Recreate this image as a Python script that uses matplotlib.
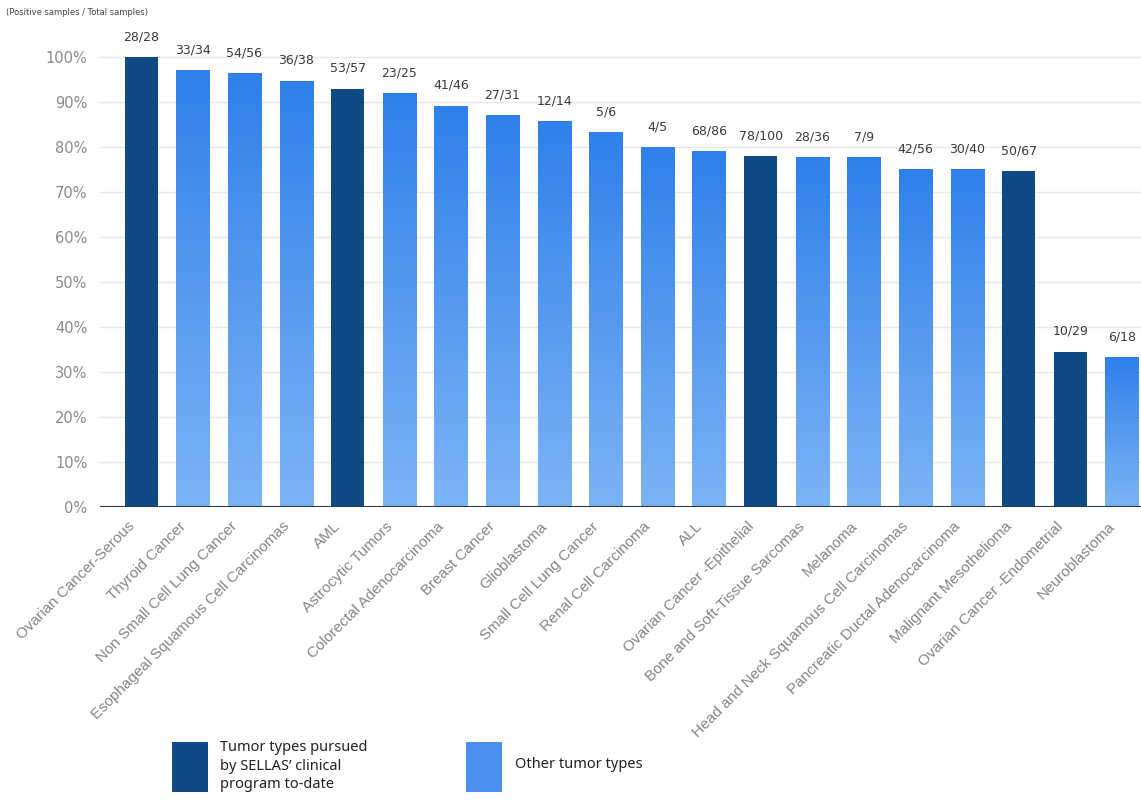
import numpy as np
import matplotlib
matplotlib.use("Agg")
import matplotlib.pyplot as plt
from matplotlib.patches import Rectangle
from matplotlib.colors import LinearSegmentedColormap
from matplotlib.transforms import ScaledTranslation

categories = ["Ovarian Cancer-Serous", "Thyroid Cancer", "Non Small Cell Lung Cancer",
              "Esophageal Squamous Cell Carcinomas", "AML", "Astrocytic Tumors",
              "Colorectal Adenocarcinoma", "Breast Cancer", "Glioblastoma",
              "Small Cell Lung Cancer", "Renal Cell Carcinoma", "ALL",
              "Ovarian Cancer -Epithelial", "Bone and Soft-Tissue Sarcomas", "Melanoma",
              "Head and Neck Squamous Cell Carcinomas", "Pancreatic Ductal Adenocarcinoma",
              "Malignant Mesothelioma", "Ovarian Cancer -Endometrial", "Neuroblastoma"]
positive = [28, 33, 54, 36, 53, 23, 41, 27, 12, 5, 4, 68, 78, 28, 7, 42, 30, 50, 10, 6]
total = [28, 34, 56, 38, 57, 25, 46, 31, 14, 6, 5, 86, 100, 36, 9, 56, 40, 67, 29, 18]
pursued = [1, 0, 0, 0, 1, 0, 0, 0, 0, 0, 0, 0, 1, 0, 0, 0, 0, 1, 1, 0]
yticks = [0, 10, 20, 30, 40, 50, 60, 70, 80, 90, 100]

dark = "#0e4a85"
grad = LinearSegmentedColormap.from_list("g", ["#7cb4f5", "#2f80ea"])

pct = [100.0 * p / t for p, t in zip(positive, total)]

fig = plt.figure(figsize=(11.41, 8.11), dpi=100)
ax = fig.add_axes([0.0876, 0.375, 0.9124, 0.577])

for y in yticks[1:]:
    ax.axhline(y, color="#e8e8e8", lw=1, zorder=0)
ax.axhline(0, color="#2b3a4a", lw=1.5, zorder=3)

w = 0.64
gradient = np.linspace(0, 1, 256).reshape(-1, 1)
for i, v in enumerate(pct):
    if pursued[i]:
        ax.bar(i, v, width=w, color=dark, zorder=2)
    else:
        rect = Rectangle((i - w / 2, 0), w, v, facecolor="none", edgecolor="none")
        ax.add_patch(rect)
        im = ax.imshow(gradient, cmap=grad, aspect="auto", origin="lower",
                       extent=(i - w / 2, i + w / 2, 0, v), zorder=2)
        im.set_clip_path(rect)
    ax.annotate(f"{positive[i]}/{total[i]}", (i, v), xytext=(0, 10),
                textcoords="offset points", ha="center", va="bottom",
                fontsize=9, color="#3a3a3a")

ax.set_xlim(-0.8, 19.37)
ax.set_ylim(0, 104)
ax.set_yticks(yticks)
ax.set_yticklabels([f"{y}%" for y in yticks], fontsize=10.5, color="#8a8a8a")
ax.set_xticks(range(len(categories)))
ax.set_xticklabels(categories, rotation=45, ha="right", rotation_mode="anchor",
                   fontsize=11, color="#858585", family="Liberation Sans")
ax.tick_params(length=0, pad=9)
shift = ScaledTranslation(-14 / 100, 0, fig.dpi_scale_trans)
for lab in ax.get_xticklabels():
    lab.set_transform(lab.get_transform() + shift)
for s in ax.spines.values():
    s.set_visible(False)

fig.text(0.005, 0.985, "(Positive samples / Total samples)", fontsize=6,
         color="#444444", va="center")

# legend
fig.patches.append(Rectangle((172 / 1141, 1 - 792 / 811), 36 / 1141, 50 / 811,
                             transform=fig.transFigure, facecolor=dark, figure=fig))
fig.text(220 / 1141, 1 - 766 / 811, "Tumor types pursued\nby SELLAS\u2019 clinical\nprogram to-date",
         fontsize=10.5, color="#222222", va="center", linespacing=1.35, family="Noto Sans")
fig.patches.append(Rectangle((466 / 1141, 1 - 792 / 811), 36 / 1141, 50 / 811,
                             transform=fig.transFigure, facecolor="#4a90f0", figure=fig))
fig.text(515 / 1141, 1 - 765 / 811, "Other tumor types", fontsize=10.5,
         color="#222222", va="center", family="Noto Sans")

fig.savefig("out.png", dpi=100)
